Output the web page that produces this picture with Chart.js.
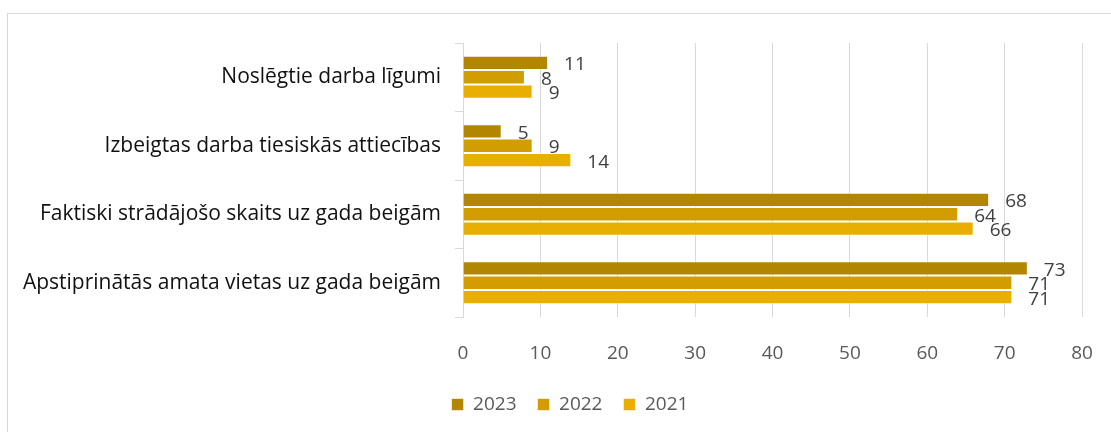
<!DOCTYPE html>
<html>
<head>
<meta charset="utf-8">
<script src="https://cdn.jsdelivr.net/npm/chart.js@4.4.1/dist/chart.umd.min.js"></script>
<style>
  html, body { margin: 0; padding: 0; background: #fff; overflow: hidden; }
  #wrap { position: relative; width: 1111px; height: 432px; }
  #frame { position: absolute; left: 7px; top: 13px; width: 1300px; height: 600px; border: 1px solid #d9d9d9; }
  #chart { position: absolute; left: 0; top: 0; }
</style>
</head>
<body>
<div id="wrap">
  <div id="frame"></div>
  <canvas id="chart" width="1111" height="432"></canvas>
</div>
<script>
// categories, top to bottom
const categories = [
    'Noslēgtie darba līgumi',
    'Izbeigtas darba tiesiskās attiecības',
    'Faktiski strādājošo skaits uz gada beigām',
    'Apstiprinātās amata vietas uz gada beigām'
];
const seriesNames = ['2023', '2022', '2021'];
const values2023 = [11, 5, 68, 73];
const values2022 = [8, 9, 64, 71];
const values2021 = [9, 14, 66, 71];
const seriesColors = ['#B38600', '#D19D00', '#E9AF00'];
const xTicks = [0, 10, 20, 30, 40, 50, 60, 70, 80];

const FONT = '"Open Sans", "Noto Sans", sans-serif';
const PAD_RIGHT = 29;

// value labels drawn next to the bar ends
const valueLabels = {
    id: 'valueLabels',
    afterDatasetsDraw(chart) {
        const ctx = chart.ctx;
        ctx.save();
        ctx.font = '19px ' + FONT;
        ctx.fillStyle = '#404040';
        ctx.textAlign = 'left';
        ctx.textBaseline = 'middle';
        chart.data.datasets.forEach((ds, i) => {
            const meta = chart.getDatasetMeta(i);
            meta.data.forEach((bar, j) => {
                ctx.fillText(String(ds.data[j]), bar.x + 16, bar.y + 2);
            });
        });
        ctx.restore();
    }
};

// the legend sits a bit right of the canvas centre, like in the original
const legendShift = {
    id: 'legendShift',
    afterLayout(chart) {
        chart.legend.left += 29;
        chart.legend.right += 29;
    }
};

const ctx = document.getElementById('chart').getContext('2d');
new Chart(ctx, {
    type: 'bar',
    data: {
        labels: categories,
        datasets: [values2023, values2022, values2021].map((vals, i) => ({
            label: seriesNames[i],
            data: vals,
            backgroundColor: seriesColors[i],
            borderColor: 'rgba(255,255,255,0.55)',
            borderWidth: 1,
            barPercentage: 1,
            categoryPercentage: 0.63
        }))
    },
    options: {
        indexAxis: 'y',
        responsive: false,
        animation: false,
        layout: { padding: { top: 43, left: 0, right: PAD_RIGHT, bottom: 8 } },
        plugins: {
            legend: {
                position: 'bottom',
                labels: {
                    boxWidth: 12,
                    boxHeight: 12,
                    padding: 21,
                    color: '#595959',
                    font: { family: FONT, size: 19 }
                }
            },
            tooltip: { enabled: false }
        },
        scales: {
            x: {
                min: 0,
                max: 80,
                afterBuildTicks: (scale) => { scale.ticks = xTicks.map(v => ({ value: v })); },
                afterFit: (scale) => {
                    scale.height = 57;
                    scale.paddingLeft = 0;
                    scale.paddingRight = 0;
                },
                ticks: { color: '#595959', padding: 25, font: { family: FONT, size: 19 } },
                grid: { color: '#d9d9d9', drawTicks: false },
                border: { display: false }
            },
            y: {
                afterFit: (scale) => { scale.width = 463; },
                ticks: { color: '#111', padding: 14, font: { family: FONT, size: 21 } },
                grid: { color: '#d9d9d9', drawOnChartArea: false, offset: true, tickLength: 8 },
                border: { display: true, color: '#d9d9d9' }
            }
        }
    },
    plugins: [valueLabels, legendShift]
});
</script>
</body>
</html>
